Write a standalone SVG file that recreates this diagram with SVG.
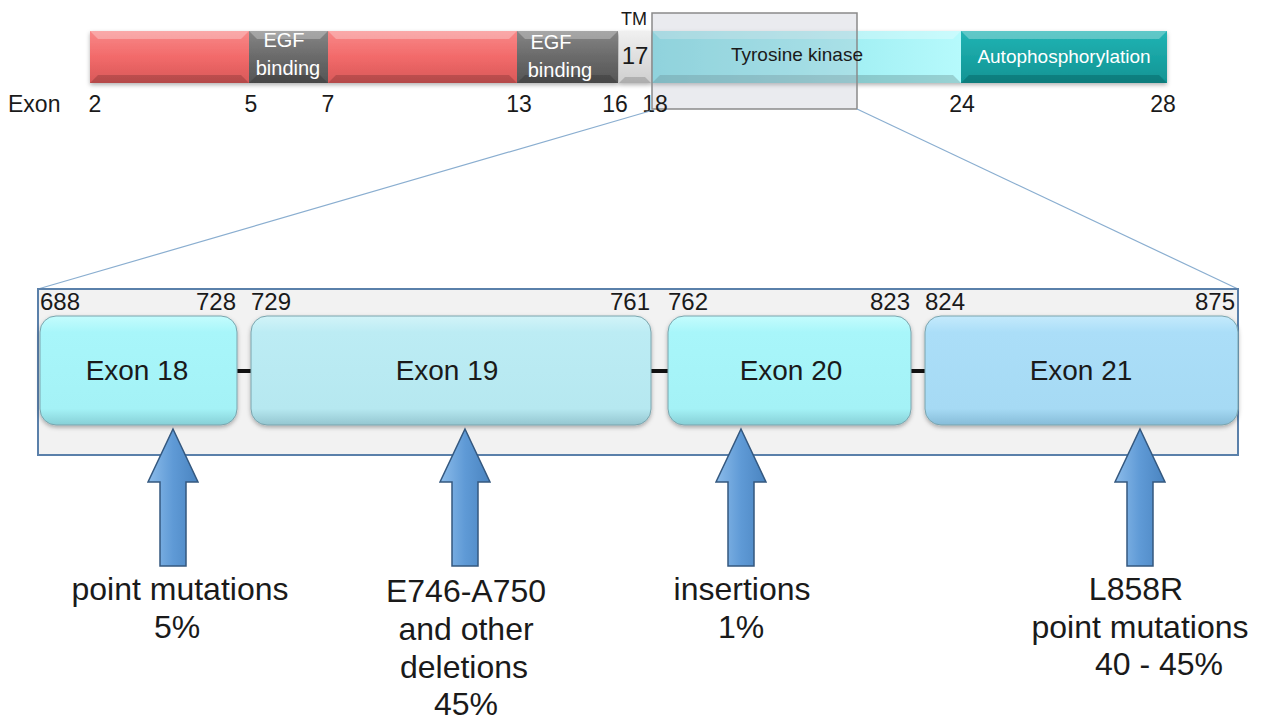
<svg xmlns="http://www.w3.org/2000/svg" width="1263" height="720" viewBox="0 0 1263 720">
<defs>
<style>
text{font-family:"Liberation Sans",Arial,sans-serif;fill:#1a1a1a}
.num{font-size:23px}
.pos{font-size:24px}
.ex{font-size:28px;text-anchor:middle}
.lab{font-size:32px;text-anchor:middle}
.wt{fill:#ffffff}
.hl{fill:#ffffff;opacity:0.28}
.sh{fill:#000000;opacity:0.16}
.box{stroke:#7aa4ad;stroke-width:1}
.arrow{fill:url(#gArrow);stroke:#34587f;stroke-width:1.5}
.conn{stroke:#111;stroke-width:4}
.zoom{stroke:#8aaed0;stroke-width:1.2;fill:none}
</style>
<linearGradient id="gRed" x1="0" y1="0" x2="0" y2="1"><stop offset="0" stop-color="#f88888"/><stop offset="0.5" stop-color="#f26a6a"/><stop offset="1" stop-color="#d85858"/></linearGradient>
<linearGradient id="gGray" x1="0" y1="0" x2="0" y2="1"><stop offset="0" stop-color="#858585"/><stop offset="0.5" stop-color="#6a6a6a"/><stop offset="1" stop-color="#555"/></linearGradient>
<linearGradient id="gTM" x1="0" y1="0" x2="0" y2="1"><stop offset="0" stop-color="#f0f0f0"/><stop offset="1" stop-color="#cfcfcf"/></linearGradient>
<linearGradient id="gTK" x1="0" y1="0" x2="1" y2="0"><stop offset="0" stop-color="#7edce4"/><stop offset="1" stop-color="#b6fafc"/></linearGradient>
<linearGradient id="gAP" x1="0" y1="0" x2="0" y2="1"><stop offset="0" stop-color="#22b4b4"/><stop offset="1" stop-color="#109494"/></linearGradient>
<linearGradient id="gE18" x1="0" y1="0" x2="0" y2="1"><stop offset="0" stop-color="#c4fcfd"/><stop offset="0.15" stop-color="#a8f6fa"/><stop offset="0.85" stop-color="#a4f2f6"/><stop offset="1" stop-color="#86cfd6"/></linearGradient>
<linearGradient id="gE19" x1="0" y1="0" x2="0" y2="1"><stop offset="0" stop-color="#d2f4f8"/><stop offset="0.15" stop-color="#bcecf4"/><stop offset="0.85" stop-color="#b6e8f0"/><stop offset="1" stop-color="#94c6d0"/></linearGradient>
<linearGradient id="gE21" x1="0" y1="0" x2="0" y2="1"><stop offset="0" stop-color="#c4eafc"/><stop offset="0.15" stop-color="#abdef8"/><stop offset="0.85" stop-color="#a6daf4"/><stop offset="1" stop-color="#86bcd8"/></linearGradient>
<linearGradient id="gArrow" x1="0" y1="0" x2="1" y2="0"><stop offset="0" stop-color="#8cbcea"/><stop offset="0.5" stop-color="#5f9ad6"/><stop offset="1" stop-color="#4a84c0"/></linearGradient>
<filter id="shadow" x="-5%" y="-5%" width="110%" height="120%"><feDropShadow dx="0" dy="2" stdDeviation="2" flood-color="#000" flood-opacity="0.3"/></filter>
</defs>
<rect width="1263" height="720" fill="#ffffff"/>

<g id="top-bar" filter="url(#shadow)">
  <g id="seg-red1"><rect x="90" y="31" width="159" height="52" fill="url(#gRed)"/><polygon class="hl" points="90,31 249,31 241,39 98,39"/><polygon class="sh" points="90,83 249,83 241,75 98,75"/></g>
  <g id="seg-egf1"><rect x="249" y="31" width="79" height="52" fill="url(#gGray)"/><polygon class="hl" points="249,31 328,31 320,39 257,39"/><polygon class="sh" points="249,83 328,83 320,75 257,75"/></g>
  <g id="seg-red2"><rect x="328" y="31" width="189" height="52" fill="url(#gRed)"/><polygon class="hl" points="328,31 517,31 509,39 336,39"/><polygon class="sh" points="328,83 517,83 509,75 336,75"/></g>
  <g id="seg-egf2"><rect x="517" y="31" width="101" height="52" fill="url(#gGray)"/><polygon class="hl" points="517,31 618,31 610,39 525,39"/><polygon class="sh" points="517,83 618,83 610,75 525,75"/></g>
  <g id="seg-tm"><rect x="619" y="31" width="32" height="52" fill="url(#gTM)"/><polygon class="sh" points="619,83 651,83 645,77 625,77"/></g>
  <g id="seg-tk"><rect x="652" y="31" width="309" height="52" fill="url(#gTK)"/><polygon class="hl" points="652,31 961,31 953,39 660,39"/><polygon class="sh" points="652,83 961,83 953,75 660,75"/></g>
  <g id="seg-ap"><rect x="961" y="31" width="206" height="52" fill="url(#gAP)"/><polygon class="hl" points="961,31 1167,31 1159,39 969,39"/><polygon class="sh" points="961,83 1167,83 1159,75 969,75"/></g>
</g>

<g id="selection">
  <rect x="652" y="13" width="205" height="96" fill="#b8bccb" fill-opacity="0.3" stroke="#8a8a8a" stroke-width="1.5"/>
</g>

<g id="top-labels">
  <text class="wt" x="284" y="47" font-size="20" text-anchor="middle">EGF</text>
  <text class="wt" x="288" y="75" font-size="20" text-anchor="middle">binding</text>
  <text class="wt" x="551" y="49" font-size="20" text-anchor="middle">EGF</text>
  <text class="wt" x="560" y="77" font-size="20" text-anchor="middle">binding</text>
  <text x="635" y="64" font-size="24" text-anchor="middle">17</text>
  <text x="634" y="25" font-size="18" text-anchor="middle">TM</text>
  <text x="797" y="61" font-size="19" text-anchor="middle" fill="#1c2c30">Tyrosine kinase</text>
  <text class="wt" x="1064" y="63" font-size="19" text-anchor="middle">Autophosphorylation</text>
</g>

<g id="exon-numbers" class="num" text-anchor="middle">
  <text x="8" y="112" text-anchor="start">Exon</text>
  <text x="95" y="112">2</text>
  <text x="251" y="112">5</text>
  <text x="328" y="112">7</text>
  <text x="519" y="112">13</text>
  <text x="615" y="112">16</text>
  <text x="655" y="112">18</text>
  <text x="962" y="112">24</text>
  <text x="1163" y="112">28</text>
</g>

<g id="connectors">
  <line class="zoom" x1="650" y1="111" x2="38" y2="289"/>
  <line class="zoom" x1="857" y1="109" x2="1238" y2="289"/>
</g>

<g id="kinase-domain">
  <rect x="38" y="289" width="1200" height="166" fill="#f2f2f2" stroke="#5a80aa" stroke-width="2"/>
</g>

<g id="exon-links">
  <line class="conn" x1="236" y1="371" x2="252" y2="371"/>
  <line class="conn" x1="650" y1="371" x2="669" y2="371"/>
  <line class="conn" x1="910" y1="371" x2="926" y2="371"/>
</g>

<g id="exon18">
  <rect class="box" x="40" y="316" width="197" height="109" rx="16" fill="url(#gE18)" filter="url(#shadow)"/>
  <text class="ex" x="137" y="380">Exon 18</text>
  <text class="pos" x="40" y="310">688</text>
  <text class="pos" x="236" y="310" text-anchor="end">728</text>
</g>
<g id="exon19">
  <rect class="box" x="251" y="316" width="400" height="109" rx="16" fill="url(#gE19)" filter="url(#shadow)"/>
  <text class="ex" x="447" y="380">Exon 19</text>
  <text class="pos" x="251" y="310">729</text>
  <text class="pos" x="650" y="310" text-anchor="end">761</text>
</g>
<g id="exon20">
  <rect class="box" x="668" y="316" width="243" height="109" rx="16" fill="url(#gE18)" filter="url(#shadow)"/>
  <text class="ex" x="791" y="380">Exon 20</text>
  <text class="pos" x="668" y="310">762</text>
  <text class="pos" x="910" y="310" text-anchor="end">823</text>
</g>
<g id="exon21">
  <rect class="box" x="925" y="316" width="313" height="109" rx="16" fill="url(#gE21)" filter="url(#shadow)"/>
  <text class="ex" x="1081" y="380">Exon 21</text>
  <text class="pos" x="925" y="310">824</text>
  <text class="pos" x="1235" y="310" text-anchor="end">875</text>
</g>

<g id="arrow18"><polygon class="arrow" points="173,429 198,482 186,482 186,566 160,566 160,482 148,482"/></g>
<g id="arrow19"><polygon class="arrow" points="465,429 490,482 478,482 478,566 452,566 452,482 440,482"/></g>
<g id="arrow20"><polygon class="arrow" points="741,429 766,482 754,482 754,566 728,566 728,482 716,482"/></g>
<g id="arrow21"><polygon class="arrow" points="1140,429 1165,482 1153,482 1153,566 1127,566 1127,482 1115,482"/></g>

<g id="label18">
  <text class="lab" x="180" y="600">point mutations</text>
  <text class="lab" x="177" y="638">5%</text>
</g>
<g id="label19">
  <text class="lab" x="466" y="602">E746-A750</text>
  <text class="lab" x="466" y="640">and other</text>
  <text class="lab" x="464" y="678">deletions</text>
  <text class="lab" x="466" y="715">45%</text>
</g>
<g id="label20">
  <text class="lab" x="742" y="600">insertions</text>
  <text class="lab" x="741" y="638">1%</text>
</g>
<g id="label21">
  <text class="lab" x="1136" y="600">L858R</text>
  <text class="lab" x="1140" y="638">point mutations</text>
  <text class="lab" x="1159" y="675">40 - 45%</text>
</g>
</svg>
